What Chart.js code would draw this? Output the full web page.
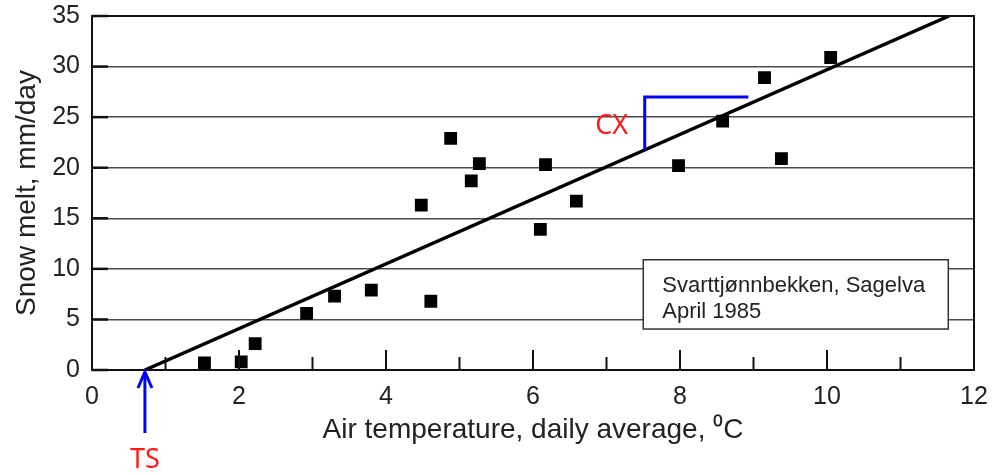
<!DOCTYPE html>
<html>
<head>
<meta charset="utf-8">
<script src="https://cdn.jsdelivr.net/npm/chart.js@4.4.0/dist/chart.umd.min.js"></script>
<style>
  html, body { margin: 0; padding: 0; background: #fff; }
  #contenedor { width: 994px; height: 475px; }
</style>
</head>
<body>
<div id="contenedor"><canvas id="grafico"></canvas></div>
<script>
// datos
const temperaturas = [1.53, 2.03, 2.22, 2.92, 3.30, 3.80, 4.61, 4.48, 4.88, 5.16, 5.27, 6.17, 6.10, 6.59, 7.98, 8.58, 9.15, 9.38, 10.05]
const derretimiento = [0.7, 0.8, 2.6, 5.6, 7.3, 7.9, 6.8, 16.3, 22.9, 18.7, 20.4, 20.3, 13.9, 16.7, 20.2, 24.6, 28.9, 20.9, 30.9]
const rectaX = [0.72, 11.66]
const rectaY = [0, 35]
const etiquetasX = [0, 2, 4, 6, 8, 10, 12]
const etiquetasY = [0, 5, 10, 15, 20, 25, 30, 35]
const cuadroX = [7.5, 11.65]
const cuadroY = [4.05, 10.9]
const cuadroTexto = ["Svarttjønnbekken, Sagelva", "April 1985"]
const cxX = [7.52, 8.93]
const cxTop = 27.0
const cxTexto = { x: 7.07, y: 23.3, texto: "CX" }

const puntos = temperaturas.map((t, i) => {
    return { x: t, y: derretimiento[i] }
})
const recta = rectaX.map((v, i) => {
    return { x: v, y: rectaY[i] }
})

function yRecta(v) {
    const pendiente = (rectaY[1] - rectaY[0]) / (rectaX[1] - rectaX[0])
    return rectaY[0] + pendiente * (v - rectaX[0])
}

const anotaciones = {
    id: "anotaciones",
    afterDatasetsDraw(chart) {
        const { ctx, chartArea } = chart
        const x = chart.scales.x
        const y = chart.scales.y
        ctx.save()

        // marco del area
        ctx.strokeStyle = "#111"
        ctx.lineWidth = 2
        ctx.strokeRect(chartArea.left, chartArea.top, chartArea.right - chartArea.left, chartArea.bottom - chartArea.top)

        // marcas hacia adentro en x
        ctx.lineWidth = 2
        x.ticks.forEach((t) => {
            const px = x.getPixelForValue(t.value)
            const largo = etiquetasX.includes(t.value) ? 20 : 13
            ctx.beginPath()
            ctx.moveTo(px, chartArea.bottom)
            ctx.lineTo(px, chartArea.bottom - largo)
            ctx.stroke()
        })
        // marcas en y
        ctx.lineWidth = 2.5
        etiquetasY.forEach((v) => {
            const py = y.getPixelForValue(v)
            ctx.beginPath()
            ctx.moveTo(chartArea.left, py)
            ctx.lineTo(chartArea.left + 16, py)
            ctx.stroke()
        })

        // cuadro de texto
        const bx1 = x.getPixelForValue(cuadroX[0])
        const bx2 = x.getPixelForValue(cuadroX[1])
        const by1 = y.getPixelForValue(cuadroY[1])
        const by2 = y.getPixelForValue(cuadroY[0])
        ctx.fillStyle = "#fff"
        ctx.fillRect(bx1, by1, bx2 - bx1, by2 - by1)
        ctx.strokeStyle = "#333"
        ctx.lineWidth = 1.5
        ctx.strokeRect(bx1, by1, bx2 - bx1, by2 - by1)
        ctx.fillStyle = "#222"
        ctx.font = "22px 'Liberation Sans', Arial, sans-serif"
        ctx.textAlign = "left"
        ctx.textBaseline = "alphabetic"
        ctx.fillText(cuadroTexto[0], bx1 + 19, by1 + 32)
        ctx.fillText(cuadroTexto[1], bx1 + 19, by1 + 58)

        // CX
        ctx.strokeStyle = "#0000ff"
        ctx.lineWidth = 3
        ctx.beginPath()
        ctx.moveTo(x.getPixelForValue(cxX[0]), y.getPixelForValue(yRecta(cxX[0])))
        ctx.lineTo(x.getPixelForValue(cxX[0]), y.getPixelForValue(cxTop))
        ctx.lineTo(x.getPixelForValue(cxX[1]), y.getPixelForValue(cxTop))
        ctx.stroke()
        ctx.fillStyle = "#ff1a1a"
        ctx.font = "27px 'Noto Sans', sans-serif"
        ctx.textAlign = "center"
        ctx.fillText(cxTexto.texto, x.getPixelForValue(cxTexto.x), y.getPixelForValue(cxTexto.y))

        // TS flecha
        const tsX = x.getPixelForValue(rectaX[0])
        const base = y.getPixelForValue(0)
        ctx.strokeStyle = "#0000ff"
        ctx.beginPath()
        ctx.moveTo(tsX, base + 63)
        ctx.lineTo(tsX, base + 2)
        ctx.stroke()
        ctx.beginPath()
        ctx.moveTo(tsX - 7, base + 18)
        ctx.lineTo(tsX, base + 2)
        ctx.lineTo(tsX + 7, base + 18)
        ctx.stroke()
        ctx.fillStyle = "#ff1a1a"
        ctx.fillText("TS", tsX, base + 98)

        ctx.restore()
    }
}

const config = {
    type: "scatter",
    data: {
        datasets: [
            {
                label: "Regresion",
                type: "line",
                data: recta,
                borderColor: "#000",
                borderWidth: 3.5,
                pointRadius: 0,
                fill: false
            },
            {
                label: "Snow melt",
                data: puntos,
                pointStyle: "rect",
                pointRadius: 8,
                backgroundColor: "#000",
                borderColor: "#000",
                borderWidth: 1.5
            }
        ]
    },
    options: {
        responsive: true,
        maintainAspectRatio: false,
        animation: false,
        layout: { padding: { top: 16, right: 20, left: 0, bottom: 0 } },
        plugins: {
            legend: { display: false },
            tooltip: { enabled: false }
        },
        scales: {
            x: {
                type: "linear",
                min: 0,
                max: 12,
                afterFit: (escala) => {
                    escala.height = 105
                    escala.paddingLeft = 0
                    escala.paddingRight = 0
                },
                ticks: {
                    stepSize: 1,
                    padding: 12,
                    color: "#222",
                    font: { family: "'Liberation Sans', Arial, sans-serif", size: 25 },
                    maxRotation: 0,
                    autoSkip: false,
                    callback: (v) => etiquetasX.includes(v) ? v : ""
                },
                grid: { drawOnChartArea: false, drawTicks: false },
                border: { color: "#111", width: 2 },
                title: {
                    display: true,
                    text: "Air temperature, daily average, ⁰C",
                    color: "#222",
                    font: { family: "'Liberation Sans', Arial, sans-serif", size: 28 },
                    padding: { bottom: 28 }
                }
            },
            y: {
                min: 0,
                max: 35,
                afterFit: (escala) => {
                    escala.width = 92
                    escala.paddingTop = 0
                    escala.paddingBottom = 0
                },
                ticks: {
                    stepSize: 5,
                    padding: 12,
                    color: "#222",
                    font: { family: "'Liberation Sans', Arial, sans-serif", size: 25 }
                },
                grid: { color: "#4a4a4a", lineWidth: 1.5, drawTicks: false },
                border: { color: "#111", width: 2 },
                title: {
                    display: true,
                    text: "Snow melt, mm/day",
                    color: "#222",
                    font: { family: "'Liberation Sans', Arial, sans-serif", size: 28 },
                    padding: { top: 10 }
                }
            }
        }
    },
    plugins: [anotaciones]
}

new Chart(document.getElementById("grafico"), config)
</script>
</body>
</html>
